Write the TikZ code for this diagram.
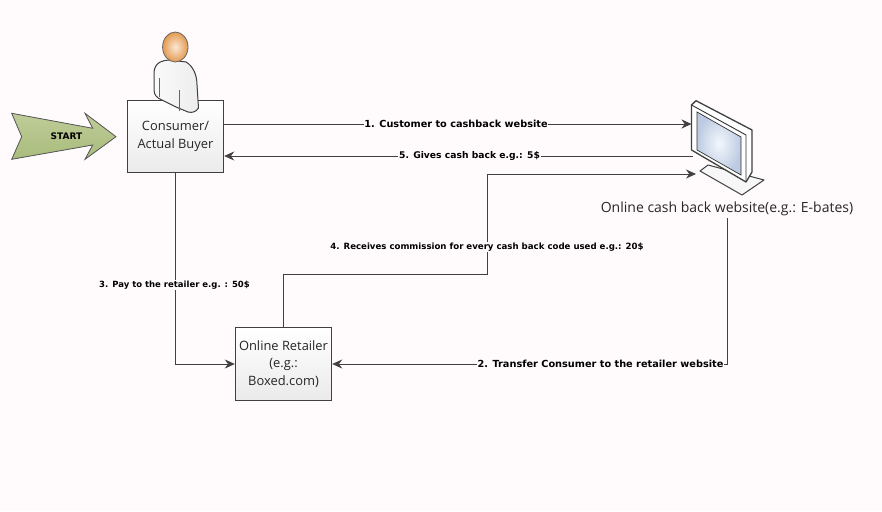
\documentclass[tikz,border=0pt]{standalone}
\usepackage{fontspec}
\setmainfont{Open Sans}
\newfontfamily\lblfont{DejaVu Sans}
\usetikzlibrary{arrows.meta,calc}
\definecolor{bgc}{HTML}{FFFBFD}
\definecolor{linec}{HTML}{404040}
\definecolor{armA}{HTML}{BFCC98}
\definecolor{armB}{HTML}{A9BC7C}
\definecolor{headA}{HTML}{FBE8D6}
\definecolor{headB}{HTML}{E39A50}
\definecolor{scrA}{HTML}{F4F7FC}
\definecolor{scrB}{HTML}{BCCBE2}
\tikzset{
  x=1pt,y=-1pt,
  boxnode/.style={draw=linec,line width=0.9pt,top color=white,bottom color=black!8,minimum width=96.5pt,minimum height=72.5pt,inner sep=0pt,align=center,font=\fontsize{12.9}{17.5}\selectfont,text=black!85},
  conn/.style={draw=linec,line width=0.8pt,-{Stealth[length=10pt,width=9pt]}},
  lbl/.style={fill=bgc,inner sep=0.8pt,font=\lblfont\bfseries\fontsize{#1}{11}\selectfont,text=black},
  outline/.style={draw=black!75,line width=1pt,line join=round},
}
\begin{document}
\begin{tikzpicture}
\useasboundingbox[fill=bgc] (0,0) rectangle (882,511);
% start arrow
\fill[draw=black!65,line width=0.8pt,top color=armA,bottom color=armB]
  (11.7,113.3) -- (92.7,128.3) -- (85,113.3) -- (116,136.7) -- (85,159.3) -- (92.7,145) -- (11.7,159.3) -- (21.7,136.7) -- cycle;
\node[font=\lblfont\bfseries\fontsize{9}{11}\selectfont] (start) at (66.5,136) {START};
% boxes
\node[boxnode] (consumer) at (175.5,136.5) {Consumer/\\Actual Buyer};
\node[boxnode] (retailer) at (283.5,364) {Online Retailer\\(e.g.:\\Boxed.com)};
% person
\fill[outline,left color=black!2,right color=black!7]
  (154,72) .. controls (155,62) and (163,60) .. (170,60)
  -- (186,62) .. controls (193,66) and (197,75) .. (197,85)
  -- (198.5,108) .. controls (196,112) and (192,113) .. (188,112)
  -- (176,107) -- (162,100) .. controls (157,98) and (154,95) .. (154,90) -- cycle;
\draw[black!60,line width=0.7pt] (159,78) -- (159,97) (179.5,90) -- (179.5,111);
\shade[inner color=headA,outer color=headB,draw=black!60,line width=0.8pt] (175.3,47) ellipse [x radius=12.7,y radius=15];
% monitor
\coordinate (monL) at (691.5,124);
\coordinate (monM) at (693,156);
\coordinate (monB) at (696,174);
\fill[outline,fill=black!3] (700,171) -- (708,165) -- (764,180) -- (742,195) -- cycle;
\fill[outline,line width=1.3pt,fill=white] (691.5,105) -- (696,100.7) -- (752,130) -- (752,172) -- (746,182) -- (691.5,150) -- cycle;
\draw[black!80,line width=0.9pt] (691.5,105) -- (746,135) -- (746,182);
\shade[draw=black!80,line width=0.7pt,inner color=scrA,outer color=scrB] (697,112) -- (741,137) -- (741,175) -- (697,150) -- cycle;
% website label
\node[font=\fontsize{14}{15}\selectfont,text=black!85] (site) at (727,209) {Online cash back website(e.g.: E-bates)};
% connectors
\draw[conn] (consumer.east |- monL) -- (monL);
\draw[conn] (monM) -- (consumer.east |- monM);
\draw[conn] (283,328) -- (283,274) -- (487,274) -- (487,174) -- (monB);
\draw[conn] (consumer.south) -- (175.5,364) -- (retailer.west);
\draw[conn] (727,218) -- (727,364) -- (retailer.east);
% labels
\node[lbl=9.75] (l1) at (456,124) {1. Customer to cashback website};
\node[lbl=9.2] (l5) at (469.5,156) {5. Gives cash back e.g.: 5\$};
\node[lbl=8.6] (l4) at (487,247) {4. Receives commission for every cash back code used e.g.: 20\$};
\node[lbl=8.5] (l3) at (174.5,285) {3. Pay to the retailer e.g. : 50\$};
\node[lbl=9.75] (l2) at (600.5,364) {2. Transfer Consumer to the retailer website};
\end{tikzpicture}
\end{document}
